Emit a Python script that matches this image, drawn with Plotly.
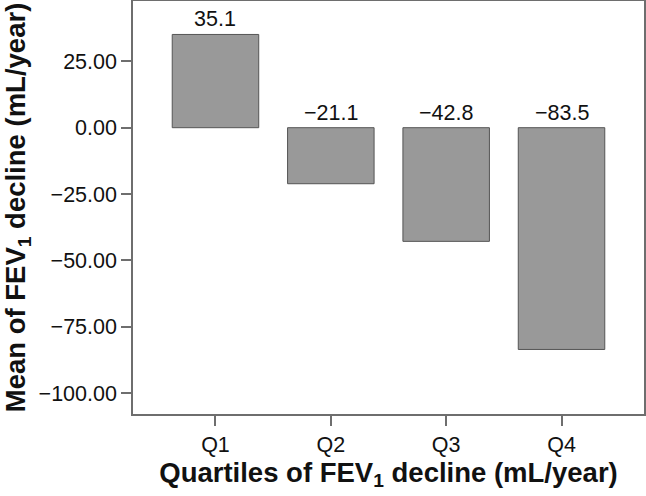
import plotly.graph_objects as go

categories = ["Q1", "Q2", "Q3", "Q4"]
values = [35.1, -21.1, -42.8, -83.5]
value_labels = ["35.1", "\u221221.1", "\u221242.8", "\u221283.5"]
ytick_vals = [25, 0, -25, -50, -75, -100]
ytick_text = ["25.00", "0.00", "\u221225.00", "\u221250.00", "\u221275.00", "\u2212100.00"]

font = "Liberation Sans, Arial, sans-serif"
axis_col = "#6e6e6e"

fig = go.Figure()
fig.add_trace(go.Bar(
    x=categories, y=values, width=0.75,
    marker=dict(color="#999999", line=dict(color="#555555", width=1)),
))
for c, v, t in zip(categories, values, value_labels):
    fig.add_annotation(x=c, y=max(v, 0), text=t, showarrow=False,
                       yanchor="bottom", yshift=1,
                       font=dict(family=font, size=21.5, color="#111111"))

fig.update_layout(
    width=646, height=496,
    margin=dict(l=133, r=2, t=1, b=82, autoexpand=False),
    paper_bgcolor="white", plot_bgcolor="white",
    showlegend=False,
    font=dict(family=font, color="#111111"),
)
fig.update_xaxes(
    range=[-0.715, 3.715], showgrid=False, automargin=False,
    showline=True, linecolor=axis_col, linewidth=1.5, mirror=True,
    ticks="outside", ticklen=10, tickcolor=axis_col, tickwidth=1.5,
    tickfont=dict(size=21.5, family=font, color="#111111"),
    title=dict(text="<b>Quartiles of FEV<sub>1</sub> decline (mL/year)</b>",
               font=dict(size=27.5, family=font, color="#111111"), standoff=3),
)
fig.update_yaxes(
    range=[-107.8, 47.7], showgrid=False, zeroline=False, automargin=False,
    showline=True, linecolor=axis_col, linewidth=1.5, mirror=True,
    ticks="outside", ticklen=10, tickcolor=axis_col, tickwidth=1.5,
    tickvals=ytick_vals, ticktext=ytick_text,
    tickfont=dict(size=21.5, family=font, color="#111111"),
    title=dict(text="<b>Mean of FEV<sub>1</sub> decline (mL/year)</b>",
               font=dict(size=27.5, family=font, color="#111111"), standoff=5),
)
fig.write_html("out.html", config={"displayModeBar": False},
               post_script="document.body.style.margin='0';document.body.style.padding='0';")
